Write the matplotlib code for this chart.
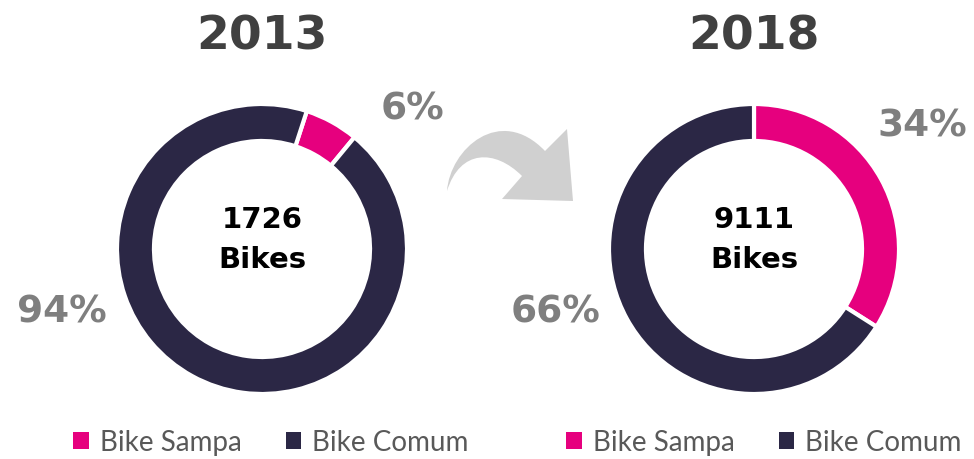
import matplotlib.pyplot as plt
from matplotlib.path import Path
from matplotlib.patches import PathPatch, Patch

# data
years = ['2013', '2018']
labels = ['Bike Sampa', 'Bike Comum']
shares = [[6, 94], [34, 66]]
totals = [1726, 9111]
colors = ['#E6007E', '#2B2745']

W, H = 974, 460
fig = plt.figure(figsize=(W / 100, H / 100), dpi=100)

centers_x = [262, 754]
center_y = 250
radius = 145
start_angles = [72, 90]
# label positions relative to the donut radius
label_pos = [[(1.04, 0.97), (-1.38, -0.43)], [(1.16, 0.85), (-1.37, -0.43)]]
legend_x = [271, 764]

for i, year in enumerate(years):
    half = radius * 1.05
    ax = fig.add_axes([(centers_x[i] - half) / W, (H - center_y - half) / H,
                       2 * half / W, 2 * half / H])
    ax.pie(shares[i], colors=colors, startangle=start_angles[i], counterclock=False,
           radius=1, wedgeprops=dict(width=0.255, edgecolor='white', linewidth=3))
    ax.set_xlim(-1.05, 1.05)
    ax.set_ylim(-1.05, 1.05)
    ax.set_aspect('equal')
    ax.axis('off')

    for j, val in enumerate(shares[i]):
        x, y = label_pos[i][j]
        ax.text(x, y, f'{val}%', ha='center', va='center', fontsize=27,
                fontweight='bold', color='#7F7F7F', clip_on=False)

    ax.text(0, 0.07, f'{totals[i]}\nBikes', ha='center', va='center', fontsize=21,
            fontweight='bold', color='black', linespacing=1.55)

    fig.text(centers_x[i] / W, 1 - 37 / H, year, ha='center', va='center',
             fontsize=34, fontweight='bold', color='#404040')

    handles = [Patch(facecolor=c, edgecolor='none') for c in colors]
    fig.legend(handles, labels, loc='center', bbox_to_anchor=(legend_x[i] / W, 1 - 443 / H),
               ncol=2, frameon=False, handlelength=0.55, handleheight=0.55,
               handletextpad=0.4, columnspacing=1.6, labelcolor='#595959',
               prop={'family': 'Lato', 'size': 20})


# curved grey arrow between the donuts
def p(x, y):
    return (x / W, 1 - y / H)


verts = [p(447, 192), p(450, 150), p(500, 105), p(545, 152),
         p(567, 130), p(573, 202), p(502, 200), p(522, 177),
         p(495, 150), p(460, 150), p(447, 192), p(447, 192)]
codes = [Path.MOVETO, Path.CURVE4, Path.CURVE4, Path.CURVE4,
         Path.LINETO, Path.LINETO, Path.LINETO, Path.LINETO,
         Path.CURVE4, Path.CURVE4, Path.CURVE4, Path.CLOSEPOLY]
fig.patches.append(PathPatch(Path(verts, codes), facecolor='#D0D0D0', edgecolor='none',
                             transform=fig.transFigure, figure=fig))

fig.savefig('out.png', dpi=100)
